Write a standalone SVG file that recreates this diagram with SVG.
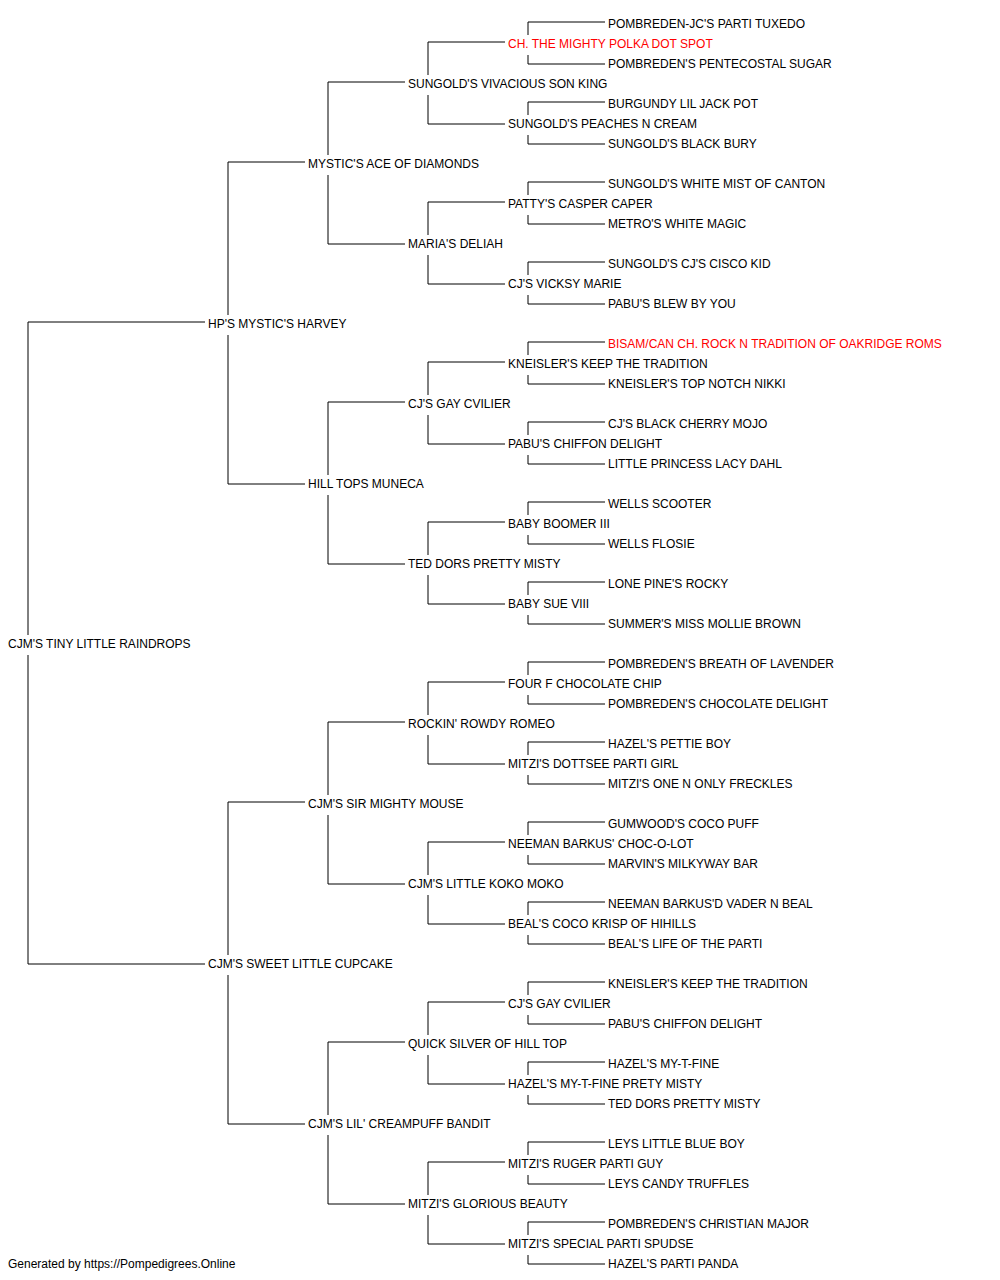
<svg xmlns="http://www.w3.org/2000/svg" width="1000" height="1280" viewBox="0 0 1000 1280">
<style>
text{font-family:"Liberation Sans",Arial,sans-serif;font-size:12px;fill:#000}
text.ch{fill:#ff0000}
#connectors path{fill:none;stroke:#000;stroke-width:1}
</style>
<rect width="1000" height="1280" fill="#fff"/>
<g id="connectors">
<path d="M28 635V322H205M28 655V964H205"/>
<path d="M228 315V162H305M228 335V484H305M228 955V802H305M228 975V1124H305"/>
<path d="M328 155V82H405M328 175V244H405M328 475V402H405M328 495V564H405M328 795V722H405M328 815V884H405M328 1115V1042H405M328 1135V1204H405"/>
<path d="M428 75V42H505M428 95V124H505M428 235V202H505M428 255V284H505M428 395V362H505M428 415V444H505M428 555V522H505M428 575V604H505M428 715V682H505M428 735V764H505M428 875V842H505M428 895V924H505M428 1035V1002H505M428 1055V1084H505M428 1195V1162H505M428 1215V1244H505"/>
<path d="M528 35V22H605M528 55V64H605M528 115V102H605M528 135V144H605M528 195V182H605M528 215V224H605M528 275V262H605M528 295V304H605M528 355V342H605M528 375V384H605M528 435V422H605M528 455V464H605M528 515V502H605M528 535V544H605M528 595V582H605M528 615V624H605M528 675V662H605M528 695V704H605M528 755V742H605M528 775V784H605M528 835V822H605M528 855V864H605M528 915V902H605M528 935V944H605M528 995V982H605M528 1015V1024H605M528 1075V1062H605M528 1095V1104H605M528 1155V1142H605M528 1175V1184H605M528 1235V1222H605M528 1255V1264H605"/>
</g>
<g id="n0"><text x="608" y="28">POMBREDEN-JC'S PARTI TUXEDO</text></g>
<g id="n1"><text class="ch" x="508" y="48">CH. THE MIGHTY POLKA DOT SPOT</text></g>
<g id="n2"><text x="608" y="68">POMBREDEN'S PENTECOSTAL SUGAR</text></g>
<g id="n3"><text x="408" y="88">SUNGOLD'S VIVACIOUS SON KING</text></g>
<g id="n4"><text x="608" y="108">BURGUNDY LIL JACK POT</text></g>
<g id="n5"><text x="508" y="128">SUNGOLD'S PEACHES N CREAM</text></g>
<g id="n6"><text x="608" y="148">SUNGOLD'S BLACK BURY</text></g>
<g id="n7"><text x="308" y="168">MYSTIC'S ACE OF DIAMONDS</text></g>
<g id="n8"><text x="608" y="188">SUNGOLD'S WHITE MIST OF CANTON</text></g>
<g id="n9"><text x="508" y="208">PATTY'S CASPER CAPER</text></g>
<g id="n10"><text x="608" y="228">METRO'S WHITE MAGIC</text></g>
<g id="n11"><text x="408" y="248">MARIA'S DELIAH</text></g>
<g id="n12"><text x="608" y="268">SUNGOLD'S CJ'S CISCO KID</text></g>
<g id="n13"><text x="508" y="288">CJ'S VICKSY MARIE</text></g>
<g id="n14"><text x="608" y="308">PABU'S BLEW BY YOU</text></g>
<g id="n15"><text x="208" y="328">HP'S MYSTIC'S HARVEY</text></g>
<g id="n16"><text class="ch" x="608" y="348">BISAM/CAN CH. ROCK N TRADITION OF OAKRIDGE ROMS</text></g>
<g id="n17"><text x="508" y="368">KNEISLER'S KEEP THE TRADITION</text></g>
<g id="n18"><text x="608" y="388">KNEISLER'S TOP NOTCH NIKKI</text></g>
<g id="n19"><text x="408" y="408">CJ'S GAY CVILIER</text></g>
<g id="n20"><text x="608" y="428">CJ'S BLACK CHERRY MOJO</text></g>
<g id="n21"><text x="508" y="448">PABU'S CHIFFON DELIGHT</text></g>
<g id="n22"><text x="608" y="468">LITTLE PRINCESS LACY DAHL</text></g>
<g id="n23"><text x="308" y="488">HILL TOPS MUNECA</text></g>
<g id="n24"><text x="608" y="508">WELLS SCOOTER</text></g>
<g id="n25"><text x="508" y="528">BABY BOOMER III</text></g>
<g id="n26"><text x="608" y="548">WELLS FLOSIE</text></g>
<g id="n27"><text x="408" y="568">TED DORS PRETTY MISTY</text></g>
<g id="n28"><text x="608" y="588">LONE PINE'S ROCKY</text></g>
<g id="n29"><text x="508" y="608">BABY SUE VIII</text></g>
<g id="n30"><text x="608" y="628">SUMMER'S MISS MOLLIE BROWN</text></g>
<g id="n31"><text x="8" y="648">CJM'S TINY LITTLE RAINDROPS</text></g>
<g id="n32"><text x="608" y="668">POMBREDEN'S BREATH OF LAVENDER</text></g>
<g id="n33"><text x="508" y="688">FOUR F CHOCOLATE CHIP</text></g>
<g id="n34"><text x="608" y="708">POMBREDEN'S CHOCOLATE DELIGHT</text></g>
<g id="n35"><text x="408" y="728">ROCKIN' ROWDY ROMEO</text></g>
<g id="n36"><text x="608" y="748">HAZEL'S PETTIE BOY</text></g>
<g id="n37"><text x="508" y="768">MITZI'S DOTTSEE PARTI GIRL</text></g>
<g id="n38"><text x="608" y="788">MITZI'S ONE N ONLY FRECKLES</text></g>
<g id="n39"><text x="308" y="808">CJM'S SIR MIGHTY MOUSE</text></g>
<g id="n40"><text x="608" y="828">GUMWOOD'S COCO PUFF</text></g>
<g id="n41"><text x="508" y="848">NEEMAN BARKUS' CHOC-O-LOT</text></g>
<g id="n42"><text x="608" y="868">MARVIN'S MILKYWAY BAR</text></g>
<g id="n43"><text x="408" y="888">CJM'S LITTLE KOKO MOKO</text></g>
<g id="n44"><text x="608" y="908">NEEMAN BARKUS'D VADER N BEAL</text></g>
<g id="n45"><text x="508" y="928">BEAL'S COCO KRISP OF HIHILLS</text></g>
<g id="n46"><text x="608" y="948">BEAL'S LIFE OF THE PARTI</text></g>
<g id="n47"><text x="208" y="968">CJM'S SWEET LITTLE CUPCAKE</text></g>
<g id="n48"><text x="608" y="988">KNEISLER'S KEEP THE TRADITION</text></g>
<g id="n49"><text x="508" y="1008">CJ'S GAY CVILIER</text></g>
<g id="n50"><text x="608" y="1028">PABU'S CHIFFON DELIGHT</text></g>
<g id="n51"><text x="408" y="1048">QUICK SILVER OF HILL TOP</text></g>
<g id="n52"><text x="608" y="1068">HAZEL'S MY-T-FINE</text></g>
<g id="n53"><text x="508" y="1088">HAZEL'S MY-T-FINE PRETY MISTY</text></g>
<g id="n54"><text x="608" y="1108">TED DORS PRETTY MISTY</text></g>
<g id="n55"><text x="308" y="1128">CJM'S LIL' CREAMPUFF BANDIT</text></g>
<g id="n56"><text x="608" y="1148">LEYS LITTLE BLUE BOY</text></g>
<g id="n57"><text x="508" y="1168">MITZI'S RUGER PARTI GUY</text></g>
<g id="n58"><text x="608" y="1188">LEYS CANDY TRUFFLES</text></g>
<g id="n59"><text x="408" y="1208">MITZI'S GLORIOUS BEAUTY</text></g>
<g id="n60"><text x="608" y="1228">POMBREDEN'S CHRISTIAN MAJOR</text></g>
<g id="n61"><text x="508" y="1248">MITZI'S SPECIAL PARTI SPUDSE</text></g>
<g id="n62"><text x="608" y="1268">HAZEL'S PARTI PANDA</text></g>
<g id="footer"><text x="8" y="1268">Generated by https://Pompedigrees.Online</text></g>
</svg>
